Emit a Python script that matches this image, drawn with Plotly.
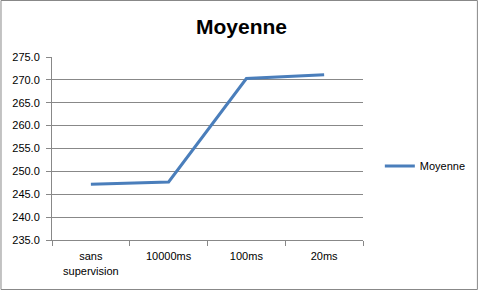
import plotly.graph_objects as go

categories = ["sans<br>supervision", "10000ms", "100ms", "20ms"]
moyenne = [247.2, 247.7, 270.3, 271.1]
series_name = "Moyenne"
y_ticks = [235, 240, 245, 250, 255, 260, 265, 270, 275]

W, H = 483, 291
L, R, T, B = 52, 117, 57, 51
pw, ph = W - L - R, H - T - B

fig = go.Figure()
fig.add_trace(go.Scatter(x=categories, y=moyenne, mode="lines", name=series_name,
                         line=dict(color="#4a7ebb", width=3)))

fig.update_layout(
    width=W, height=H,
    margin=dict(l=L, r=R, t=T, b=B),
    paper_bgcolor="white", plot_bgcolor="white",
    font=dict(family="Liberation Sans, Arial, sans-serif", size=11, color="#000"),
    title=dict(text="<b>Moyenne</b>", x=0.5, xanchor="center", y=1 - 27 / H, yanchor="middle",
               font=dict(size=21, color="#000")),
    showlegend=True,
    legend=dict(x=(383 - L) / pw, y=(240 - 166) / ph, xanchor="left", yanchor="middle",
                font=dict(size=11), bgcolor="rgba(0,0,0,0)", itemwidth=30),
    xaxis=dict(type="category", range=[-0.5, 3.5], showline=True, linecolor="#888", linewidth=1,
               ticks="outside", tickson="boundaries", ticklen=5, tickcolor="#888",
               ticklabelstandoff=6,
               showgrid=False, tickfont=dict(size=11)),
    yaxis=dict(range=[235, 275], tickvals=y_ticks, tickformat=".1f",
               showline=True, linecolor="#888", linewidth=1,
               ticks="outside", ticklen=5, tickcolor="#888",
               ticklabelstandoff=4,
               showgrid=True, gridcolor="#888", gridwidth=1,
               zeroline=False, tickfont=dict(size=11)),
    shapes=[dict(type="rect", xref="paper", yref="paper",
                 x0=(0.5 - L) / pw, x1=(W - 1.5 - L) / pw,
                 y0=-(H - 1.5 - (T + ph)) / ph, y1=(T + ph - 0.5) / ph,
                 line=dict(color="#888", width=1), fillcolor="rgba(0,0,0,0)")],
)

fig.write_html("out.html")
